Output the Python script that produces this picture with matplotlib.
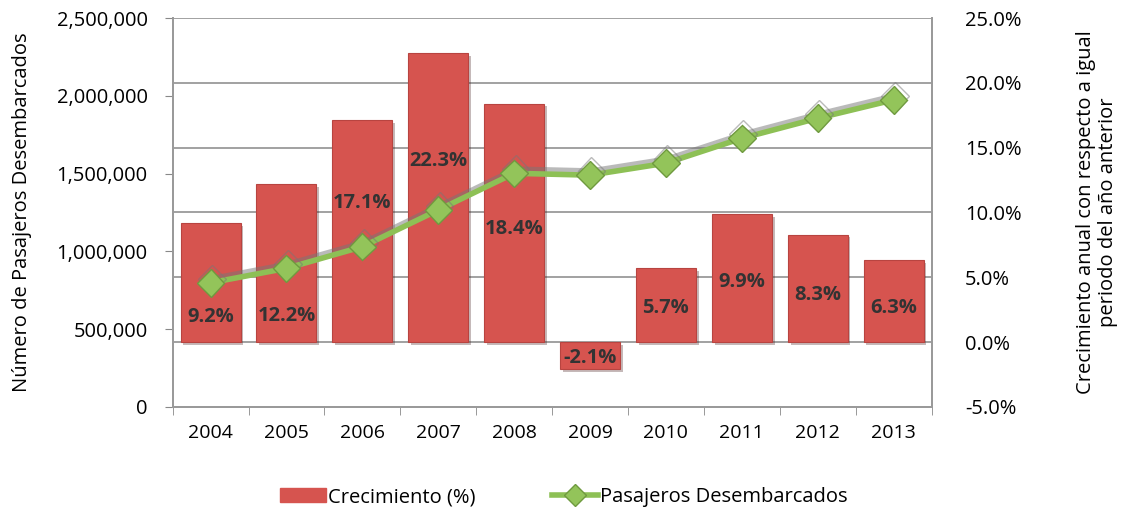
import numpy as np
import matplotlib.pyplot as plt
import matplotlib.patheffects as pe
from matplotlib.ticker import FuncFormatter

plt.rcParams['font.family'] = ['Open Sans', 'DejaVu Sans']

years = ['2004', '2005', '2006', '2007', '2008', '2009', '2010', '2011', '2012', '2013']
growth = [9.2, 12.2, 17.1, 22.3, 18.4, -2.1, 5.7, 9.9, 8.3, 6.3]
passengers = [798000, 891000, 1030000, 1266000, 1502000, 1490000, 1567000, 1727000, 1856000, 1974000]
# where each percent label sits (in % units of the right axis)
label_y = [1.9, 2.0, 10.7, 14.0, 8.7, -1.25, 2.6, 4.6, 3.6, 2.6]

x = np.arange(len(years))

fig = plt.figure(figsize=(11.21, 5.17), dpi=100)
ax = fig.add_axes([0.154, 0.213, 0.677, 0.752])
ax2 = ax.twinx()

# bars on the percent axis (right)
ax2.bar(x, growth, width=0.79, color='#d6544f', edgecolor='#b84440', linewidth=0.8, zorder=3,
        path_effects=[pe.SimplePatchShadow(offset=(2, -2), alpha=0.3), pe.Normal()])
for i in range(len(years)):
    ax2.text(x[i], label_y[i], f"{growth[i]}%", ha='center', va='center', fontsize=14.5,
             fontweight='bold', color='#333333', zorder=4)
ax2.set_ylim(-5, 25)
ax2.set_yticks(np.arange(-5, 26, 5))
ax2.yaxis.set_major_formatter(FuncFormatter(lambda v, p: f"{v:.1f}%"))
ax2.grid(axis='y', color='#9a9a9a', linewidth=1.3, zorder=0)
ax2.set_axisbelow(True)
ax2.set_ylabel("Crecimiento anual con respecto a igual\nperiodo del año anterior", fontsize=14.5,
               labelpad=39, linespacing=1.15)

# passengers line on the left axis, drawn above the bars
ax.set_zorder(ax2.get_zorder() + 1)
ax.patch.set_visible(False)
ax.plot(x, passengers, color='#8dc055', linewidth=4, marker='D', markersize=14,
        markerfacecolor='#93c45a', markeredgecolor='#6f9a3f', zorder=5,
        path_effects=[pe.SimpleLineShadow(offset=(1, 3), shadow_color='#777777', alpha=0.5), pe.Normal()])
ax.set_ylim(0, 2500000)
ax.set_yticks(np.arange(0, 2500001, 500000))
ax.yaxis.set_major_formatter(FuncFormatter(lambda v, p: f"{int(v):,}"))
ax.set_ylabel("Número de Pasajeros Desembarcados", fontsize=14.5, labelpad=18)

ax.set_xlim(-0.5, len(years) - 0.5)
ax.set_xticks(x)
ax.set_xticklabels(years)
ax.set_xticks(np.arange(-0.5, len(years), 1), minor=True)
ax.tick_params(axis='x', which='major', length=0, pad=12, labelsize=14)
ax.tick_params(axis='x', which='minor', length=6, color='#888888')
ax.tick_params(axis='y', labelsize=14.5, color='#888888', length=6, pad=12)
ax2.tick_params(axis='y', labelsize=14.5, length=0, pad=24)

for a in (ax, ax2):
    a.spines['top'].set_visible(False)
    for s in ('left', 'right', 'bottom'):
        a.spines[s].set_color('#9a9a9a')
        a.spines[s].set_linewidth(1.3)

bar_h = plt.Rectangle((0, 0), 1, 1, color='#d6544f')
line_h = plt.Line2D([], [], color='#8dc055', linewidth=4, marker='D', markersize=11,
                    markerfacecolor='#93c45a', markeredgecolor='#6f9a3f')
fig.legend([bar_h, line_h], ["Crecimiento (%)", "Pasajeros Desembarcados"], loc='center',
           bbox_to_anchor=(0.503, 0.038), ncol=2, frameon=False, fontsize=14.5,
           columnspacing=3.8, handlelength=2.3, handletextpad=0.1)

fig.savefig('out.png', dpi=100)
